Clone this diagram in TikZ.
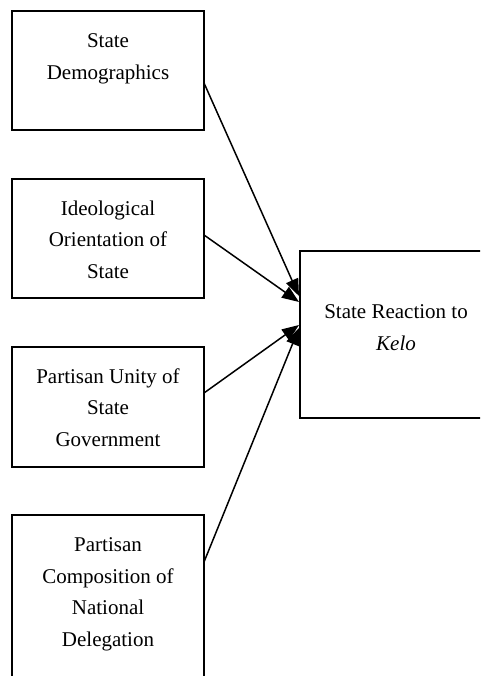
\documentclass[tikz,border=0pt]{standalone}
\usepackage{fontspec}
\setmainfont{Liberation Serif}
\usetikzlibrary{arrows.meta,calc}
\tikzset{
  box/.style={draw=black, line width=1.8pt, inner sep=0pt, outer sep=0pt, anchor=north west, fill=white},
  arr/.style={-{Triangle[length=17pt,width=13pt]}, line width=1.5pt, shorten >=0pt},
}
\newcommand{\boxtext}[3]{\parbox[c][#1][t]{192pt}{\centering\fontsize{21}{31.5}\selectfont\rule{0pt}{#2}#3}}
\begin{document}
\begin{tikzpicture}[x=1pt,y=1pt]
\useasboundingbox (0,0) rectangle (480,676);
\clip (0,0) rectangle (480,676);
\fill[white] (0,0) rectangle (480,676);
% left boxes (image y converted: Y = 676 - y)
\node[box] (b1) at (12,665) {\boxtext{119pt}{36.7pt}{State\\Demographics}};
\node[box] (b2) at (12,497) {\boxtext{119pt}{36.2pt}{Ideological\\Orientation of\\State}};
\node[box] (b3) at (12,329) {\boxtext{120pt}{36.5pt}{Partisan Unity of\\State\\Government}};
\node[box] (b4) at (12,161) {\boxtext{185pt}{36.7pt}{Partisan\\Composition of\\National\\Delegation}};
% right box
\node[box] (r) at (300,425) {\boxtext{167pt}{68pt}{State Reaction to\\\textit{Kelo}}};
% connector end points
\coordinate (s1) at ($(b1.north east)+(0,-72)$);
\coordinate (s2) at ($(b2.north east)+(0,-56)$);
\coordinate (s3) at ($(b3.north east)+(0,-46)$);
\coordinate (s4) at ($(b4.north east)+(0,-47)$);
\coordinate (t1) at ($(r.north west)+(-1,-45)$);
\coordinate (t2) at ($(r.north west)+(-1,-51)$);
\coordinate (t3) at ($(r.north west)+(-1,-74)$);
\coordinate (t4) at ($(r.north west)+(-1,-77)$);
\draw[arr] (s1) -- (t1);
\draw[arr] (s2) -- (t2);
\draw[arr] (s3) -- (t3);
\draw[arr] (s4) -- (t4);
\end{tikzpicture}
\end{document}
